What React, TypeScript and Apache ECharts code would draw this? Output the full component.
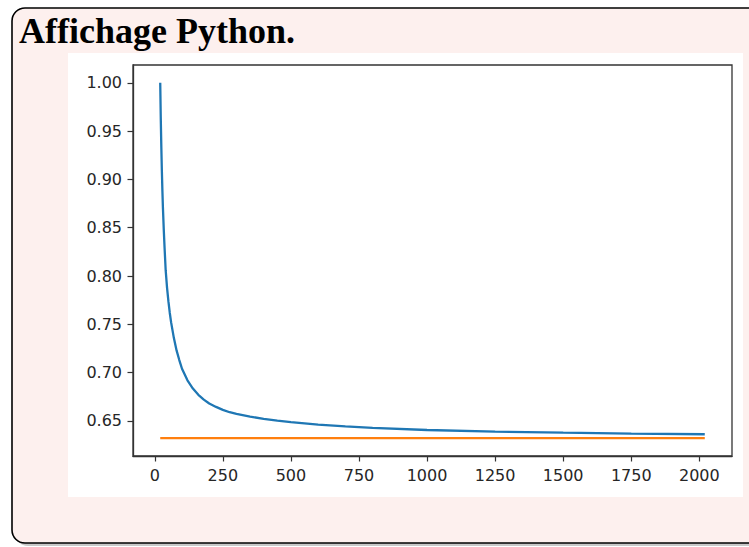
import React, { useEffect, useRef } from 'react';
import * as echarts from 'echarts';

const titleText = 'Affichage Python.';
const xValues = [20, 22, 24, 26, 28, 30, 33, 36, 40, 45, 50, 55, 60, 70, 80, 90, 100, 120, 140, 160, 180, 200, 225, 250, 275, 300, 350, 400, 450, 500, 600, 700, 800, 1000, 1250, 1500, 1750, 2020];
const blueValues = [1.0, 0.963, 0.934, 0.909, 0.888, 0.87, 0.848, 0.829, 0.806, 0.788, 0.774, 0.762, 0.752, 0.736, 0.723, 0.713, 0.704, 0.692, 0.6835, 0.677, 0.672, 0.668, 0.6645, 0.6615, 0.659, 0.6572, 0.6545, 0.6522, 0.6503, 0.6487, 0.6462, 0.6443, 0.6428, 0.6406, 0.639, 0.6378, 0.6369, 0.6362];
const orangeX = [20, 2020];
const orangeValues = [0.6321, 0.6321];
const xTicks = [0, 250, 500, 750, 1000, 1250, 1500, 1750, 2000];
const yTicks = [0.65, 0.7, 0.75, 0.8, 0.85, 0.9, 0.95, 1.0];

export default function App() {
  const ref = useRef<HTMLDivElement>(null);
  useEffect(() => {
    const chart = echarts.init(ref.current!, null, { renderer: 'svg' });
    const labelStyle = {
      fontFamily: '"DejaVu Sans"',
      fontSize: 16,
      color: '#262626',
    };
    chart.setOption({
      animation: false,
      backgroundColor: '#ffffff',
      graphic: [
        { type: 'rect', z: -20, shape: { x: 15, y: 11, width: 760, height: 535, r: 13 }, style: { fill: '#c8c8c8' } },
        { type: 'rect', z: -19, shape: { x: 12, y: 8, width: 760, height: 535, r: 13 }, style: { fill: '#fdf0ee', stroke: '#000', lineWidth: 1.6 } },
        { type: 'rect', z: -18, shape: { x: 68, y: 53, width: 675, height: 444 }, style: { fill: '#ffffff' } },
        { type: 'text', z: 10, x: 19, y: 31, style: { text: titleText, font: 'bold 36px "Liberation Serif"', fill: '#000', verticalAlign: 'middle', align: 'left' } },
      ],
      grid: {
        left: 133, top: 65, right: 17, bottom: 91,
        show: true, borderColor: '#333', borderWidth: 1.3, backgroundColor: '#fff',
      },
      xAxis: {
        type: 'value', min: -80, max: 2120,
        splitLine: { show: false },
        axisLine: { show: true, onZero: false, lineStyle: { color: '#333', width: 1.3 } },
        axisTick: { show: true, length: 5.5, lineStyle: { color: '#333', width: 1.2 }, customValues: xTicks },
        axisLabel: { ...labelStyle, margin: 11, customValues: xTicks, formatter: (v: number) => String(v) },
      },
      yAxis: {
        type: 'value', min: 0.6137, max: 1.0184,
        splitLine: { show: false },
        axisLine: { show: true, onZero: false, lineStyle: { color: '#333', width: 1.3 } },
        axisTick: { show: true, length: 5.5, lineStyle: { color: '#333', width: 1.2 }, customValues: yTicks },
        axisLabel: { ...labelStyle, margin: 11, customValues: yTicks, formatter: (v: number) => v.toFixed(2) },
      },
      series: [
        {
          type: 'line', showSymbol: false,
          data: xValues.map((x, i) => [x, blueValues[i]]),
          lineStyle: { color: '#1f77b4', width: 2.3 }, itemStyle: { color: '#1f77b4' },
        },
        {
          type: 'line', showSymbol: false,
          data: orangeX.map((x, i) => [x, orangeValues[i]]),
          lineStyle: { color: '#ff7f0e', width: 2.3 }, itemStyle: { color: '#ff7f0e' },
        },
      ],
    });
    return () => chart.dispose();
  }, []);
  return <div ref={ref} style={{ position: 'fixed', left: 0, top: 0, width: 749, height: 547 }} />;
}
